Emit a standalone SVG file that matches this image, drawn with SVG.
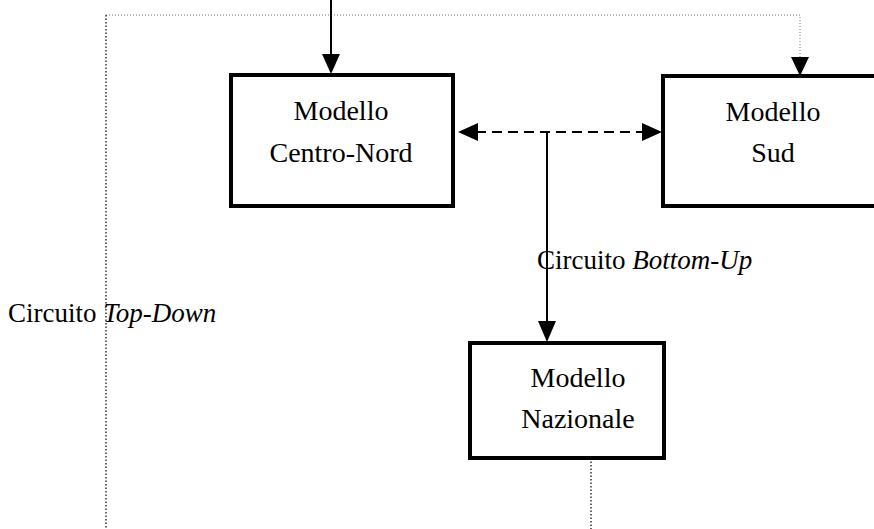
<svg xmlns="http://www.w3.org/2000/svg" width="874" height="529" viewBox="0 0 874 529">
<style>
.box{fill:#fff;stroke:#000;stroke-width:4}
.t{font-family:"Liberation Serif","Times New Roman",serif;font-size:28px;fill:#000}
.l{font-size:27px}
.c{text-anchor:middle}
.solid{stroke:#000;stroke-width:2;fill:none}
.dash{stroke:#000;stroke-width:2;stroke-dasharray:10 6;fill:none}
.dot{stroke:#333;stroke-width:1.5;stroke-dasharray:1.5 2;fill:none}
.dotl{stroke:#777;stroke-width:1;stroke-dasharray:1 2;fill:none}
.head{fill:#000}
</style>
<rect width="874" height="529" fill="#fff"/>
<g id="connectors">
<path class="dotl" d="M106,15 H800 V58"/>
<path class="dot" d="M106,15 V529"/>
<polygon class="head" points="791,57 809,57 800,76"/>
<path class="solid" d="M331,0 V56"/>
<polygon class="head" points="322,54 340,54 331,74"/>
<path class="dash" d="M476,132 H644"/>
<polygon class="head" points="458,132 478,123 478,141"/>
<polygon class="head" points="662,132 642,123 642,141"/>
<path class="solid" d="M547,132 V324"/>
<polygon class="head" points="538,321 556,321 547,342"/>
<path class="dot" d="M591,458 V529"/>
</g>
<g id="centro-nord">
<rect class="box" x="231" y="75" width="222" height="131"/>
<text class="t c" x="341" y="120">Modello</text>
<text class="t c" x="341" y="162">Centro-Nord</text>
</g>
<g id="sud">
<rect class="box" x="663" y="76" width="230" height="130"/>
<text class="t c" x="773" y="121">Modello</text>
<text class="t c" x="773" y="162">Sud</text>
</g>
<g id="nazionale">
<rect class="box" x="470" y="343" width="194" height="115"/>
<text class="t c" x="578" y="387">Modello</text>
<text class="t c" x="578" y="428">Nazionale</text>
</g>
<g id="labels">
<text class="t l" x="537" y="269">Circuito <tspan font-style="italic">Bottom-Up</tspan></text>
<text class="t l" x="8" y="322">Circuito <tspan font-style="italic">Top-Down</tspan></text>
</g>
</svg>
